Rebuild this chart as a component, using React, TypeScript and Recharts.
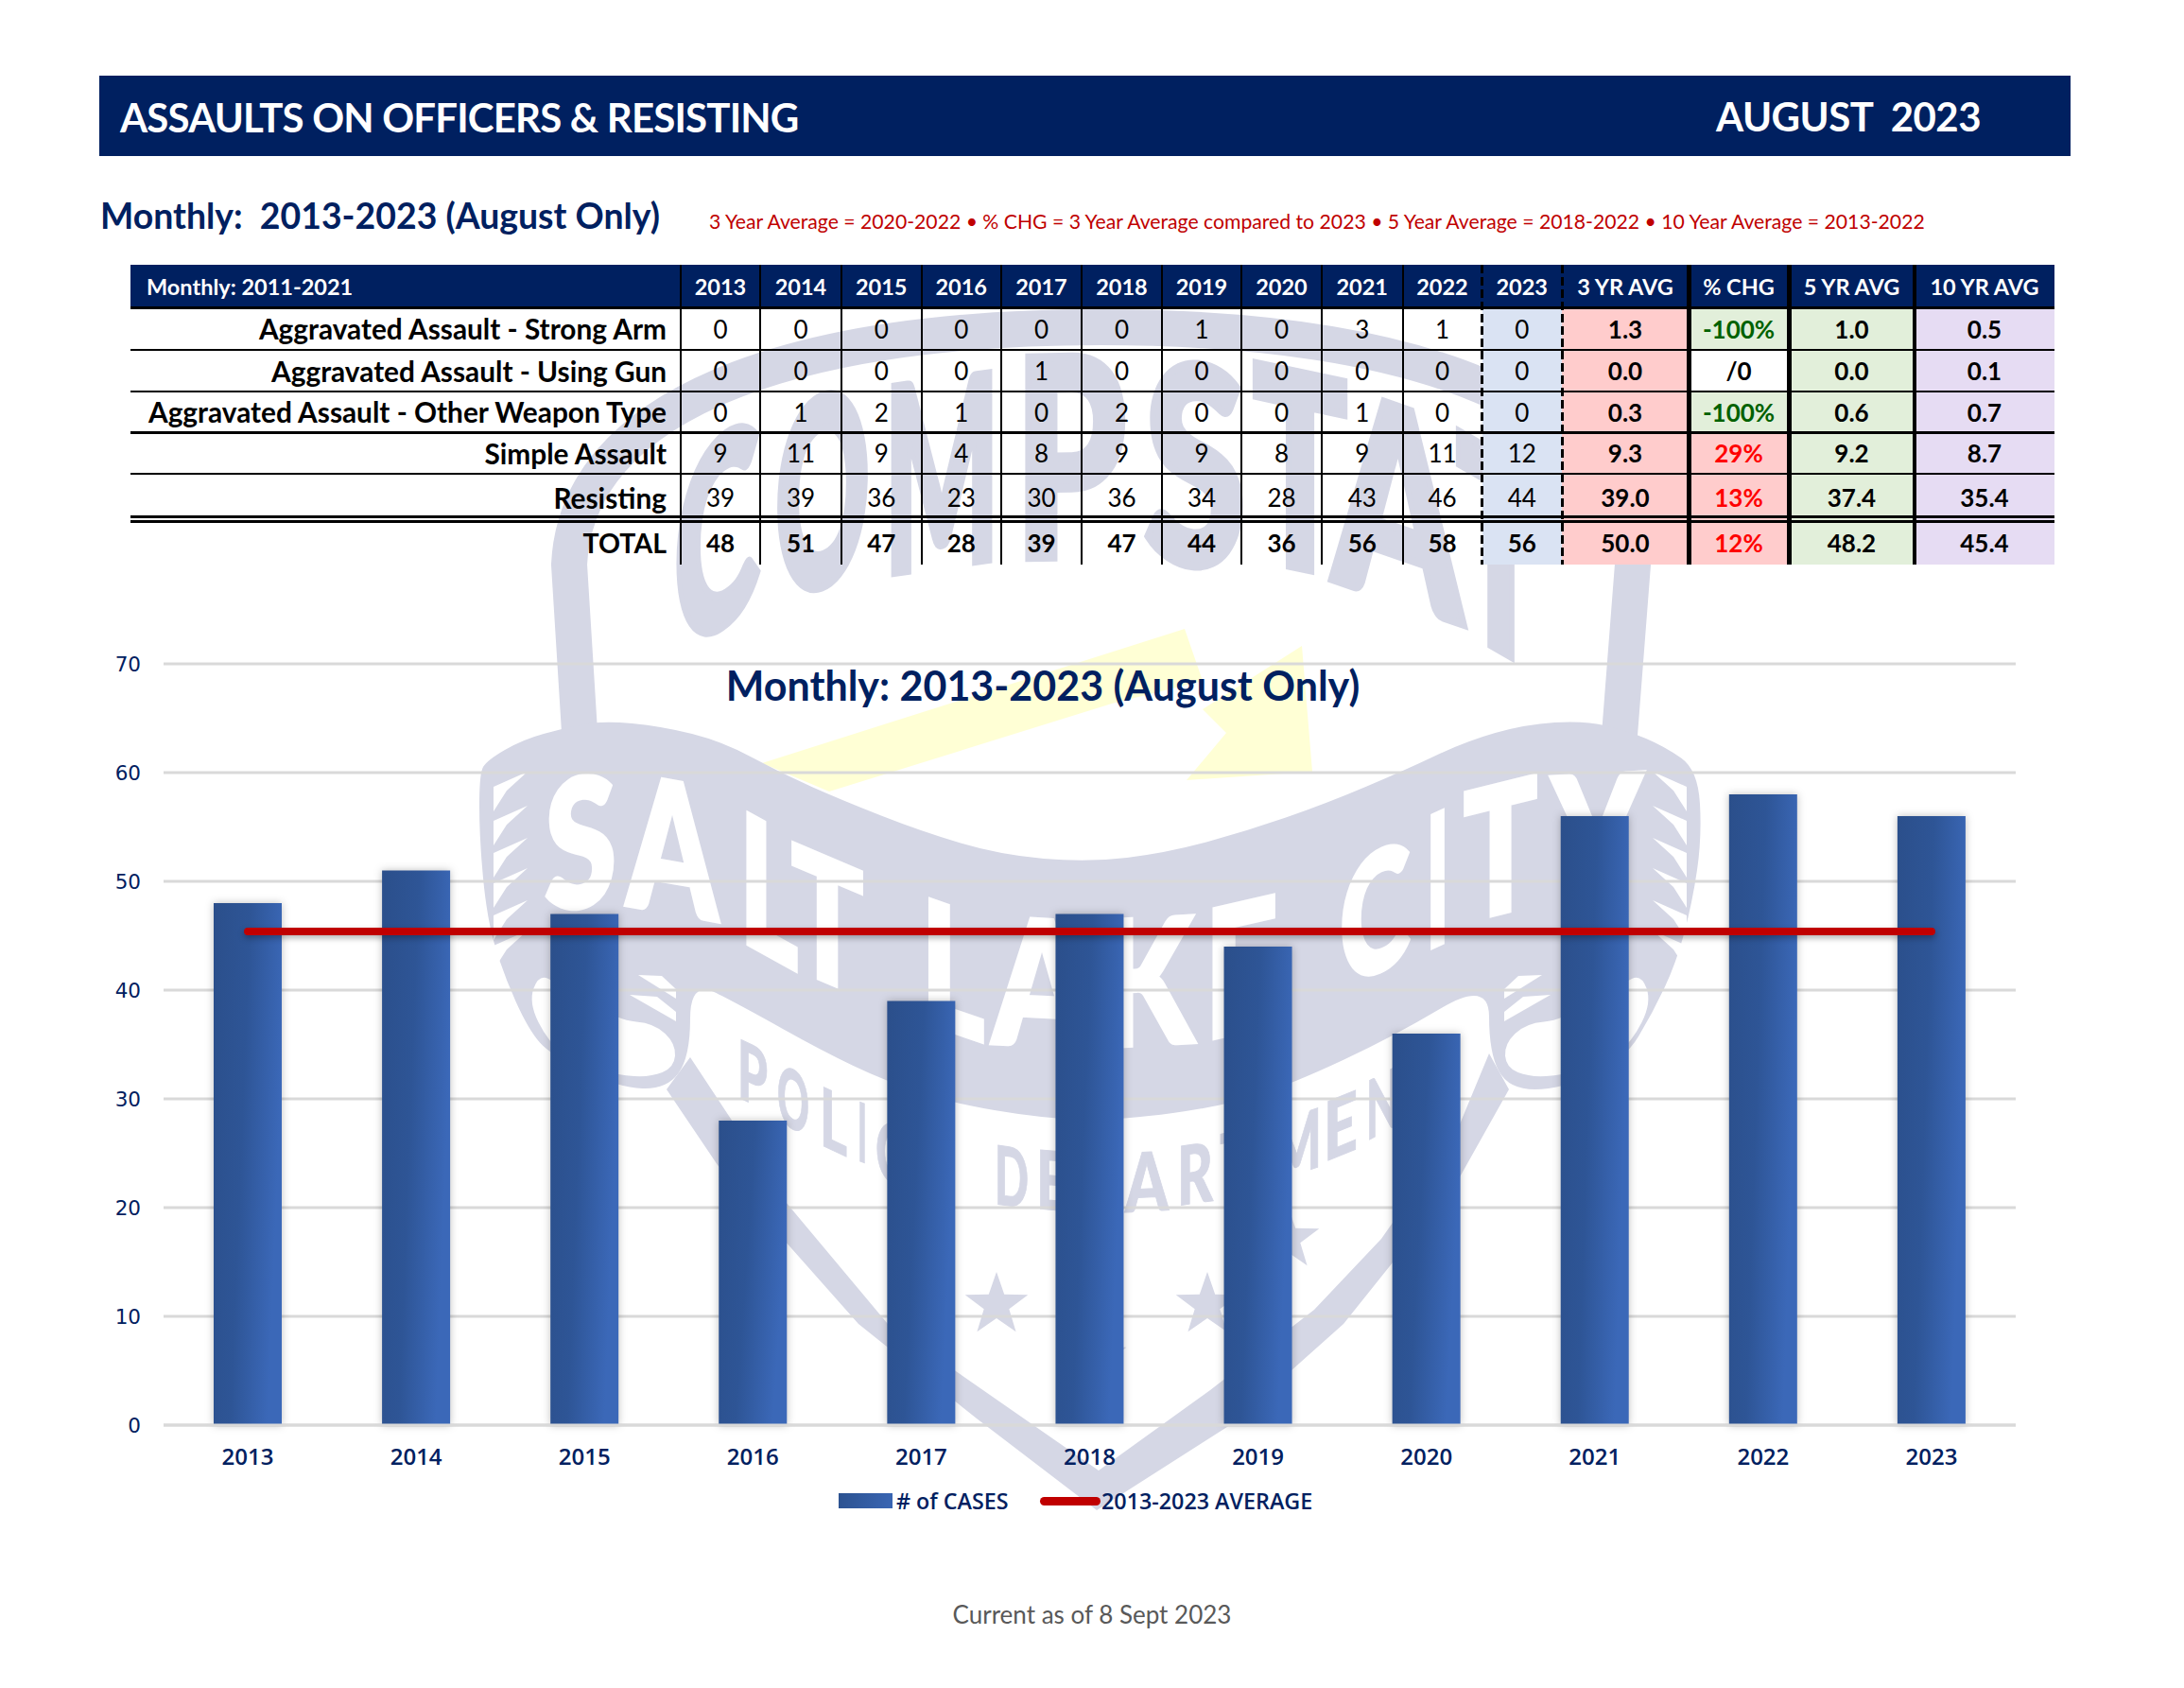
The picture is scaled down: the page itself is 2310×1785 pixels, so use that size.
import React from 'react';
import { Bar, CartesianGrid, ComposedChart, Legend, Line, XAxis, YAxis } from 'recharts';

const years = ['2013', '2014', '2015', '2016', '2017', '2018', '2019', '2020', '2021', '2022', '2023'];
const strongArm = [0, 0, 0, 0, 0, 0, 1, 0, 3, 1, 0];
const usingGun = [0, 0, 0, 0, 1, 0, 0, 0, 0, 0, 0];
const otherWeapon = [0, 1, 2, 1, 0, 2, 0, 0, 1, 0, 0];
const simpleAssault = [9, 11, 9, 4, 8, 9, 9, 8, 9, 11, 12];
const resisting = [39, 39, 36, 23, 30, 36, 34, 28, 43, 46, 44];
const totals = [48, 51, 47, 28, 39, 47, 44, 36, 56, 58, 56];
const average = [45.4, 45.4, 45.4, 45.4, 45.4, 45.4, 45.4, 45.4, 45.4, 45.4, 45.4];
const yTicks = [0, 10, 20, 30, 40, 50, 60, 70];

const rowLabels = [
  'Aggravated Assault - Strong Arm',
  'Aggravated Assault - Using Gun',
  'Aggravated Assault - Other Weapon Type',
  'Simple Assault',
  'Resisting',
  'TOTAL',
];
const rowValues = [strongArm, usingGun, otherWeapon, simpleAssault, resisting, totals];
const threeYear = ['1.3', '0.0', '0.3', '9.3', '39.0', '50.0'];
const pctChange = ['-100%', '/0', '-100%', '29%', '13%', '12%'];
const fiveYear = ['1.0', '0.0', '0.6', '9.2', '37.4', '48.2'];
const tenYear = ['0.5', '0.1', '0.7', '8.7', '35.4', '45.4'];
const summaryHeads = ['3 YR AVG', '% CHG', '5 YR AVG', '10 YR AVG'];

const chartData = years.map((year, i) => ({ year, cases: totals[i], avg: average[i] }));

// table layout, in page pixels
const colX = [720, 804, 890, 974.5, 1059, 1144, 1229, 1313, 1398, 1483.5, 1567.5, 1652, 1786, 1892, 2025, 2173];
const rowY = [325, 370, 414, 457, 501, 551, 597];
const NAVY = '#002060';
const LOGO = '#D5D7E5';
const BODY = 'Lato, sans-serif';
const TICK_FONT = '"Open Sans", sans-serif';

const Box = ({ x, y, w, h, style, children }: any) => (
  <div
    style={{
      position: 'absolute', left: x, top: y, width: w, height: h,
      display: 'flex', alignItems: 'center', justifyContent: 'center',
      whiteSpace: 'pre', ...style,
    }}
  >
    {children}
  </div>
);

const pctColor = (v: string) => (v.startsWith('-') ? '#006100' : v === '/0' ? '#000' : '#FF0000');
const pctFill = (v: string) => (v.startsWith('-') ? '#E2EFDA' : v === '/0' ? '#FFFFFF' : '#FFCCCC');

const star = (cx: number, cy: number, r: number) => {
  const pts = [];
  for (let i = 0; i < 10; i++) {
    const rad = i % 2 ? r * 0.4 : r;
    const a = -Math.PI / 2 + (i * Math.PI) / 5;
    pts.push(`${cx + rad * Math.cos(a)},${cy + rad * Math.sin(a)}`);
  }
  return pts.join(' ');
};

// rounds a closed outline by curving through the midpoints of its sides
const smoothOutline = (outline: string) => {
  const pts = outline.split(' ').map((p) => p.split(',').map(Number));
  const mid = (a: number[], b: number[]) => [(a[0] + b[0]) / 2, (a[1] + b[1]) / 2];
  const start = mid(pts[pts.length - 1], pts[0]);
  let d = `M ${start[0]} ${start[1]}`;
  pts.forEach((p, i) => {
    const m = mid(p, pts[(i + 1) % pts.length]);
    d += ` Q ${p[0]} ${p[1]} ${m[0]} ${m[1]}`;
  });
  return d + ' Z';
};

// logo lettering: [char, left x, width, baseline y at left edge, cap height, skew in degrees]
const compstatLetters: any[] = [
  ['C', 713, 90, 697, 197, -35],
  ['O', 820, 100, 637, 197, -20],
  ['M', 935, 122, 607, 195, -8],
  ['P', 1073, 118, 590, 210, -1],
  ['S', 1210, 108, 592, 208, 5],
  ['T', 1325, 100, 590, 205, 12],
  ['A', 1410, 137, 613, 205, 19],
  ['T', 1540, 95, 661, 205, 30],
];
const cityLetters: any[] = [
  ['S', 576, 76, 964, 135, -8],
  ['A', 663, 96, 957, 138, 10],
  ['L', 782, 62, 993, 137, 29],
  ['T', 837, 76, 1022, 130, 23],
  ['L', 974, 67, 1079, 130, 19],
  ['A', 1050, 104, 1103, 132, 3],
  ['K', 1165, 97, 1107, 132, -3],
  ['E', 1274, 78, 1100, 135, -13],
  ['C', 1417, 74, 1045, 125, -24],
  ['I', 1508, 25, 1005, 138, -25],
  ['T', 1548, 78, 975, 135, -14],
  ['Y', 1642, 95, 958, 135, -3],
];
const policeLetters: any[] = [
  ['P', 780, 32, 1160, 62, 25],
  ['O', 822, 34, 1186, 62, 25],
  ['L', 867, 29, 1210, 62, 25],
  ['I', 907, 10, 1227, 62, 20],
  ['C', 926, 34, 1245, 62, 18],
  ['E', 968, 32, 1258, 62, 14],
  ['D', 1052, 36, 1273, 62, 8],
  ['E', 1096, 34, 1278, 62, 5],
  ['P', 1140, 35, 1283, 62, 0],
  ['A', 1190, 46, 1282, 62, -3],
  ['R', 1245, 38, 1275, 62, -8],
  ['T', 1290, 40, 1262, 62, -12],
  ['M', 1345, 53, 1250, 62, -18],
  ['E', 1400, 36, 1229, 62, -22],
  ['N', 1445, 35, 1207, 62, -28],
  ['T', 1485, 35, 1190, 62, -30],
];
const featherY = [832, 868, 902, 934, 968, 1000];

const Lettering = ({ letters, fill, thicken }: any) => (
  <>
    {letters.map(([ch, x, w, base, cap, skew]: any, i: number) => (
      <text
        key={i}
        transform={`translate(${x} ${base}) skewY(${skew})`}
        fontFamily={BODY}
        fontWeight={900}
        fontSize={cap / 0.72}
        fill={fill}
        stroke={fill}
        strokeWidth={thicken}
        textLength={w}
        lengthAdjust="spacingAndGlyphs"
      >
        {ch}
      </text>
    ))}
  </>
);

const BANNER =
  '507,818 515,804 553,782 597,770 637,762 700,768 764,784 827,818 890,846 974,879 1058,904 1150,912 1234,902 1318,879 1402,850 1487,814 1550,784 1613,766 1676,762 1722,773 1760,789 1796,814 1800,886 1790,954 1773,1018 1748,1071 1718,1121 1651,1152 1596,1152 1575,1114 1575,1036 1474,1096 1367,1146 1293,1170 1188,1184 1117,1184 1012,1168 936,1143 869,1111 785,1064 730,1036 730,1118 705,1152 654,1150 583,1116 559,1089 532,1029 515,971 507,886';
const SHIELD =
  '705,1152 759,1232 908,1400 1033,1500 1160,1597 1301,1507 1421,1400 1541,1250 1596,1152 1575,1114 1541,1196 1461,1310 1390,1385 1280,1470 1162,1555 1011,1450 939,1400 831,1271 730,1118';
const CURL = '559,1060 570,1030 590,1040 654,1079 692,1082 715,1104 713,1129 688,1139 654,1137 610,1125 580,1102';

const Feathers = () => (
  <>
    {featherY.map((y) => (
      <polygon key={y} points={`522,${y} 558,${y - 16} 536,${y + 4} 522,${y + 26}`} fill="#fff" />
    ))}
    <polygon points="675,1031 700,1032 715,1046 715,1056" fill="#fff" />
    <polygon points="666,1052 695,1054 715,1070 715,1080" fill="#fff" />
    <path d={smoothOutline(CURL)} fill="#fff" />
  </>
);

// faded department logo behind the table and the chart
const Watermark = () => (
  <svg width={2310} height={1785} style={{ position: 'absolute', left: 0, top: 0 }}>
    <polygon points="806,807 1253,665 1272,720 1176,744 877,837" fill="#FFFFD5" />
    <polygon points="1272,750 1297,775 1255,825 1388,816 1377,683" fill="#FFFFD5" />
    <path
      d="M 614 790 L 602 597 C 610 430 830 346 1164 346 C 1500 346 1720 430 1727 597 L 1712 790"
      fill="none" stroke={LOGO} strokeWidth={38}
    />
    <Lettering letters={compstatLetters} fill={LOGO} thicken={9} />
    <path d={smoothOutline(BANNER)} fill={LOGO} />
    <polygon points={SHIELD} fill={LOGO} />
    <Feathers />
    <g transform="translate(2306 0) scale(-1 1)">
      <Feathers />
    </g>
    <Lettering letters={cityLetters} fill="#FFFFFF" thicken={5} />
    <Lettering letters={policeLetters} fill={LOGO} thicken={1} />
    <polygon points={star(1054, 1380, 35)} fill={LOGO} />
    <polygon points={star(1277, 1380, 35)} fill={LOGO} />
    <polygon points={star(1362, 1310, 35)} fill={LOGO} />
    <polygon points={star(1160, 1435, 33)} fill={LOGO} />
  </svg>
);

const StatsTable = () => {
  const summary = [threeYear, pctChange, fiveYear, tenYear];
  const headStyle = { color: '#fff', fontFamily: BODY, fontSize: 23.5, fontWeight: 700 };
  return (
    <>
      <Box x={138} y={280} w={2035} h={45} style={{ background: NAVY }} />
      <Box x={155} y={280} w={500} h={45} style={{ ...headStyle, justifyContent: 'flex-start' }}>
        Monthly: 2011-2021
      </Box>
      {years.map((year, c) => (
        <Box key={year} x={colX[c]} y={280} w={colX[c + 1] - colX[c]} h={45} style={headStyle}>
          {year}
        </Box>
      ))}
      {summaryHeads.map((head, c) => (
        <Box key={head} x={colX[c + 11]} y={280} w={colX[c + 12] - colX[c + 11]} h={45} style={headStyle}>
          {head}
        </Box>
      ))}
      {rowLabels.map((label, r) => {
        const top = rowY[r];
        const h = rowY[r + 1] - top;
        const isTotal = r === 5;
        return (
          <React.Fragment key={label}>
            <Box x={colX[10]} y={top} w={colX[11] - colX[10]} h={h} style={{ background: '#DAE3F3' }} />
            <Box x={colX[11]} y={top} w={colX[12] - colX[11]} h={h} style={{ background: '#FFCCCC' }} />
            <Box x={colX[12]} y={top} w={colX[13] - colX[12]} h={h} style={{ background: pctFill(pctChange[r]) }} />
            <Box x={colX[13]} y={top} w={colX[14] - colX[13]} h={h} style={{ background: '#E2EFDA' }} />
            <Box x={colX[14]} y={top} w={colX[15] - colX[14]} h={h} style={{ background: '#E6DCF3' }} />
            <Box
              x={138} y={top} w={567} h={h}
              style={{ justifyContent: 'flex-end', fontFamily: BODY, fontSize: isTotal ? 28.5 : 29.8, fontWeight: 700, color: '#000' }}
            >
              {label}
            </Box>
            {rowValues[r].map((v, c) => (
              <Box
                key={c} x={colX[c]} y={top} w={colX[c + 1] - colX[c]} h={h}
                style={{ fontFamily: BODY, fontSize: 26, fontWeight: isTotal ? 700 : 400, color: '#000' }}
              >
                {v}
              </Box>
            ))}
            {summary.map((col, c) => (
              <Box
                key={c} x={colX[c + 11]} y={top} w={colX[c + 12] - colX[c + 11]} h={h}
                style={{ fontFamily: BODY, fontSize: 26, fontWeight: 700, color: c === 1 ? pctColor(col[r]) : '#000' }}
              >
                {col[r]}
              </Box>
            ))}
          </React.Fragment>
        );
      })}
      {[370, 414, 501].map((y) => (
        <div key={y} style={{ position: 'absolute', left: 138, top: y - 1, width: 2035, height: 2, background: '#000' }} />
      ))}
      {[323.5, 455.5, 544.5, 549.5].map((y) => (
        <div key={y} style={{ position: 'absolute', left: 138, top: y, width: 2035, height: 3, background: '#000' }} />
      ))}
      {colX.slice(0, 15).map((x, c) => {
        if (c === 10 || c === 11) {
          return (
            <div
              key={x}
              style={{
                position: 'absolute', left: x - 1.5, top: 280, width: 3, height: 317,
                background: 'repeating-linear-gradient(to bottom,#000 0 9px,transparent 9px 13px)',
              }}
            />
          );
        }
        const w = c === 12 || c === 13 ? 5 : c === 14 ? 4 : 2;
        return <div key={x} style={{ position: 'absolute', left: x - w / 2, top: 280, width: w, height: 317, background: '#000' }} />;
      })}
    </>
  );
};

const LegendRow = ({ payload }: any) => (
  <div style={{ position: 'relative', height: 30, fontFamily: TICK_FONT, fontWeight: 600, fontSize: 23.3, color: NAVY }}>
    {(payload || []).map((entry: any) => {
      const isBar = entry.dataKey === 'cases';
      return (
        <div key={entry.dataKey} style={{ position: 'absolute', left: isBar ? 0 : 213, top: 0, height: 30, display: 'flex', alignItems: 'center', whiteSpace: 'pre' }}>
          {isBar ? (
            <span style={{ width: 57, height: 16, marginRight: 4, background: 'linear-gradient(100deg,#2C5290,#3A66B4)' }} />
          ) : (
            <span style={{ width: 64, height: 9, marginRight: 1, borderRadius: 5, background: '#C00000' }} />
          )}
          {entry.value}
        </div>
      );
    })}
  </div>
);

const AssaultsChart = () => (
  <ComposedChart
    width={2310}
    height={1000}
    data={chartData}
    margin={{ top: 52, right: 178, bottom: 0, left: 0 }}
    barCategoryGap={0}
    style={{ position: 'absolute', left: 0, top: 0 }}
  >
    <defs>
      <linearGradient id="barFill" x1="0" y1="0" x2="1" y2="0.3">
        <stop offset="0%" stopColor="#2B4F8B" />
        <stop offset="50%" stopColor="#2E5596" />
        <stop offset="100%" stopColor="#3B68B8" />
      </linearGradient>
    </defs>
    <CartesianGrid vertical={false} stroke="#D9D9D9" strokeWidth={3} />
    <XAxis
      dataKey="year"
      height={113}
      tickLine={false}
      tickSize={0}
      tickMargin={25}
      axisLine={{ stroke: '#D9D9D9', strokeWidth: 3 }}
      tick={{ fill: NAVY, fontFamily: TICK_FONT, fontWeight: 600, fontSize: 24 }}
    />
    <YAxis
      width={173}
      domain={[0, 70]}
      ticks={yTicks}
      tickLine={false}
      axisLine={false}
      tickSize={0}
      tickMargin={24}
      tick={{ fill: NAVY, fontFamily: '"DejaVu Sans", sans-serif', fontSize: 21.5 }}
    />
    <Bar
      dataKey="cases"
      name="# of CASES"
      barSize={72}
      fill="url(#barFill)"
      isAnimationActive={false}
      style={{ filter: 'drop-shadow(0 0 4px rgba(0,0,0,0.25))' }}
    />
    <Line
      dataKey="avg"
      name="2013-2023 AVERAGE"
      stroke="#C00000"
      strokeWidth={8}
      strokeLinecap="round"
      dot={false}
      activeDot={false}
      isAnimationActive={false}
      style={{ filter: 'drop-shadow(0 3px 3px rgba(0,0,0,0.3))' }}
    />
    <Legend
      content={<LegendRow />}
      wrapperStyle={{ position: 'absolute', left: 887, top: 922, width: 540, height: 30, bottom: 'auto' }}
    />
  </ComposedChart>
);

export default function App() {
  return (
    <div style={{ position: 'absolute', left: 0, top: 0, width: 2310, height: 1785, background: '#fff', overflow: 'hidden' }}>
      <Watermark />
      <Box x={105} y={80} w={2085} h={85} style={{ background: NAVY }} />
      <Box x={127} y={81} w={900} h={85} style={{ justifyContent: 'flex-start', color: '#fff', fontFamily: BODY, fontWeight: 700, fontSize: 42, letterSpacing: -0.83 }}>
        ASSAULTS ON OFFICERS &amp; RESISTING
      </Box>
      <Box x={1815} y={80} w={300} h={85} style={{ justifyContent: 'flex-start', color: '#fff', fontFamily: BODY, fontWeight: 700, fontSize: 42, letterSpacing: -0.5 }}>
        AUGUST  2023
      </Box>
      <Box x={106} y={202} w={640} h={50} style={{ justifyContent: 'flex-start', color: NAVY, fontFamily: BODY, fontWeight: 700, fontSize: 37.4 }}>
        Monthly:  2013-2023 (August Only)
      </Box>
      <Box x={750} y={214} w={1400} h={40} style={{ justifyContent: 'flex-start', color: '#C00000', fontFamily: BODY, fontSize: 21.2 }}>
        3 Year Average = 2020-2022 • % CHG = 3 Year Average compared to 2023 • 5 Year Average = 2018-2022 • 10 Year Average = 2013-2022
      </Box>
      <StatsTable />
      <div style={{ position: 'absolute', left: 0, top: 650, width: 2310, height: 1000 }}>
        <AssaultsChart />
      </div>
      <Box x={703} y={699} w={800} h={50} style={{ color: NAVY, fontFamily: BODY, fontWeight: 700, fontSize: 43 }}>
        Monthly: 2013-2023 (August Only)
      </Box>
      <Box x={905} y={1687} w={500} h={40} style={{ color: '#595959', fontFamily: BODY, fontWeight: 400, fontSize: 26 }}>
        Current as of 8 Sept 2023
      </Box>
    </div>
  );
}
